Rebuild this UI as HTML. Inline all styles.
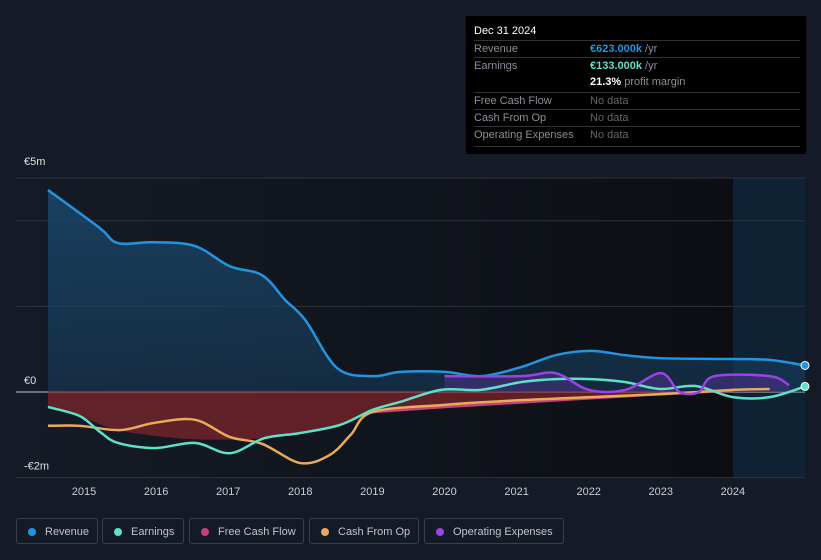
<!DOCTYPE html>
<html><head><meta charset="utf-8"><style>
body{margin:0;background:#151b26;font-family:"Liberation Sans",sans-serif;}
#wrap{position:relative;width:821px;height:560px;overflow:hidden;background:#151b26}
.tip{position:absolute;left:466px;top:16px;width:340px;height:138px;background:#000;color:#8a8f98;font-size:11px}
.tip .r{position:absolute;left:8px;right:6px;height:17px;line-height:17px;border-top:1px solid #333}
.tip .v{position:absolute;left:116px}
.leg{position:absolute;top:518px;height:26px;border:1px solid #3a404b;border-radius:3px;color:#c0c4cc;font-size:11px;line-height:26px;box-sizing:border-box;padding-left:28px}
.leg i{position:absolute;left:11px;top:9px;width:8px;height:8px;border-radius:50%}
</style></head><body>
<div id="wrap">
<svg id="svg" width="821" height="560" style="position:absolute;left:0;top:0">
<defs>
<linearGradient id="bg" x1="0" x2="1"><stop offset="0" stop-color="#151b26"/><stop offset="1" stop-color="#0b0d12"/></linearGradient>
<linearGradient id="rev" x1="0" y1="0" x2="0" y2="1"><stop offset="0" stop-color="#1b4a6e" stop-opacity="0.8"/><stop offset="1" stop-color="#163a58" stop-opacity="0.6"/></linearGradient>
</defs>
<rect x="16" y="178" width="789" height="300" fill="url(#bg)"/>
<rect x="733" y="178" width="72" height="300" fill="#0f2538" opacity="0.9"/>
<g id="grid"></g><g id="marks"></g>
</svg>
<div class="tip">
<div style="position:absolute;left:8px;top:9px;color:#fff;font-size:11px">Dec 31 2024</div>
<div class="r" style="top:24px">Revenue<span class="v"><b style="color:#2394df;font-weight:bold">€623.000k</b> /yr</span></div>
<div class="r" style="top:41px">Earnings<span class="v"><b style="color:#5fe0c8">€133.000k</b> /yr</span></div>
<div class="r" style="top:58px;border-top:none"><span class="v"><b style="color:#fff">21.3%</b> profit margin</span></div>
<div class="r" style="top:76px">Free Cash Flow<span class="v" style="color:#666">No data</span></div>
<div class="r" style="top:93px">Cash From Op<span class="v" style="color:#666">No data</span></div>
<div class="r" style="top:110px">Operating Expenses<span class="v" style="color:#666">No data</span></div>
<div class="r" style="top:130px;height:0"></div>
</div>
<div class="leg" style="left:16px;width:82px"><i style="background:#2394df"></i>Revenue</div>
<div class="leg" style="left:102px;width:82px"><i style="background:#5fe0c8"></i>Earnings</div>
<div class="leg" style="left:189px;width:115px"><i style="background:#c4407e"></i>Free Cash Flow</div>
<div class="leg" style="left:309px;width:110px"><i style="background:#e9aa5a"></i>Cash From Op</div>
<div class="leg" style="left:424px;width:140px"><i style="background:#9a42e6"></i>Operating Expenses</div>
</div>
<script>
const yearTicks=[2015,2016,2017,2018,2019,2020,2021,2022,2023,2024];
const yLabels=[{v:5,t:"€5m"},{v:0,t:"€0"},{v:-2,t:"-€2m"}];
const gridVals=[5,4,2,0,-2];
const revX=[2014.5,2015.22,2015.47,2015.98,2016.54,2017.02,2017.47,2017.79,2018.07,2018.51,2019.0,2019.39,2020.01,2020.5,2021.06,2021.54,2022.03,2022.51,2022.99,2024.0,2024.51,2025.0];
const revV=[4.72,3.83,3.48,3.5,3.41,2.94,2.73,2.15,1.68,0.56,0.37,0.47,0.47,0.37,0.58,0.86,0.96,0.86,0.79,0.77,0.75,0.62];
const earnX=[2014.5,2014.94,2015.22,2015.47,2015.98,2016.54,2017.02,2017.5,2017.99,2018.55,2019.0,2019.39,2019.95,2020.5,2021.06,2021.54,2022.03,2022.51,2022.99,2023.48,2024.0,2024.51,2025.0];
const earnV=[-0.35,-0.56,-0.93,-1.19,-1.31,-1.19,-1.43,-1.08,-0.96,-0.77,-0.42,-0.23,0.05,0.05,0.23,0.3,0.3,0.23,0.07,0.14,-0.12,-0.12,0.13];
const cfoX=[2014.5,2014.94,2015.5,2015.98,2016.54,2017.02,2017.47,2018.0,2018.41,2018.7,2019.0,2020.0,2021.06,2022.03,2023.0,2024.0,2024.51];
const cfoV=[-0.79,-0.79,-0.89,-0.72,-0.65,-1.05,-1.21,-1.66,-1.47,-1.0,-0.47,-0.3,-0.19,-0.12,-0.05,0.05,0.07];
const fcfX=[2014.5,2014.94,2015.5,2016.5,2017.5,2018.0,2018.55,2019.0,2020.0,2021.0,2022.0,2023.0,2024.0];
const fcfV=[-0.35,-0.56,-0.9,-1.1,-1.08,-0.96,-0.77,-0.47,-0.35,-0.25,-0.15,-0.05,0.03];
const opexX=[2020.0,2021.06,2021.54,2022.0,2022.51,2023.0,2023.26,2023.53,2023.74,2024.51,2024.78];
const opexV=[0.37,0.37,0.44,0.05,0.05,0.44,0.0,0.0,0.37,0.37,0.16];

const NS="http://www.w3.org/2000/svg";
const X=t=>84+(t-2015)*72.1, Y=v=>392-v*42.8;
function mk(tag,at,parent){const e=document.createElementNS(NS,tag);for(const k in at)e.setAttribute(k,at[k]);parent.appendChild(e);return e;}
const grid=document.getElementById('grid'),marks=document.getElementById('marks'),svg=document.getElementById('svg');
gridVals.forEach(v=>{const l=mk('line',{x1:16,x2:805,y1:Y(v),y2:Y(v),stroke:v==0?'#9aa0a8':'#2c333e','stroke-width':v==0?1.2:1},grid);

});
yLabels.forEach(o=>{const t=mk('text',{x:24,y:Y(o.v)-8+(o.v==5?-5:0),fill:'#e0e0e0','font-size':11,'font-family':'Liberation Sans'},svg);t.textContent=o.t;

});
yearTicks.forEach(y=>{const t=mk('text',{x:X(y),y:495,fill:'#c8ccd2','font-size':11,'text-anchor':'middle','font-family':'Liberation Sans'},svg);t.textContent=y;

});
function path(xs,vs){const p=xs.map((x,i)=>[X(x),Y(vs[i])]);const n=p.length;
let d='M'+p[0][0]+','+p[0][1];
for(let i=0;i<n-1;i++){const p0=p[Math.max(i-1,0)],p1=p[i],p2=p[i+1],p3=p[Math.min(i+2,n-1)];
const c1=[p1[0]+(p2[0]-p0[0])/6,p1[1]+(p2[1]-p0[1])/6],c2=[p2[0]-(p3[0]-p1[0])/6,p2[1]-(p3[1]-p1[1])/6];
d+=` C${c1[0]},${c1[1]} ${c2[0]},${c2[1]} ${p2[0]},${p2[1]}`;}return d;}
function area(xs,vs,fill,name){const d=path(xs,vs)+` L${X(xs[xs.length-1])},${Y(0)} L${X(xs[0])},${Y(0)} Z`;const e=mk('path',{d,fill},marks);

}
function line(xs,vs,c,name,w){const e=mk('path',{d:path(xs,vs),fill:'none',stroke:c,'stroke-width':w||2.5,'stroke-linejoin':'round'},marks);

}
area(revX,revV,'url(#rev)','revenue-area');
area(fcfX,fcfV,'rgba(150,40,45,0.6)','fcf-area');
area(opexX,opexV,'rgba(90,50,150,0.45)','opex-area');
line(fcfX.slice(7),fcfV.slice(7),'#c4407e','fcf-line');
line(revX,revV,'#2394df','revenue-line');
line(cfoX,cfoV,'#e9aa5a','cash-from-op-line');
line(earnX,earnV,'#5fe0c8','earnings-line');
line(opexX,opexV,'#9a42e6','opex-line');
const d1=mk('circle',{cx:805,cy:Y(revV[revV.length-1]),r:4,fill:'#2394df',stroke:'#fff','stroke-width':1},svg);


const d2=mk('circle',{cx:805,cy:Y(earnV[earnV.length-1]),r:4,fill:'#5fe0c8',stroke:'#fff','stroke-width':1},svg);


</script>
</body></html>
